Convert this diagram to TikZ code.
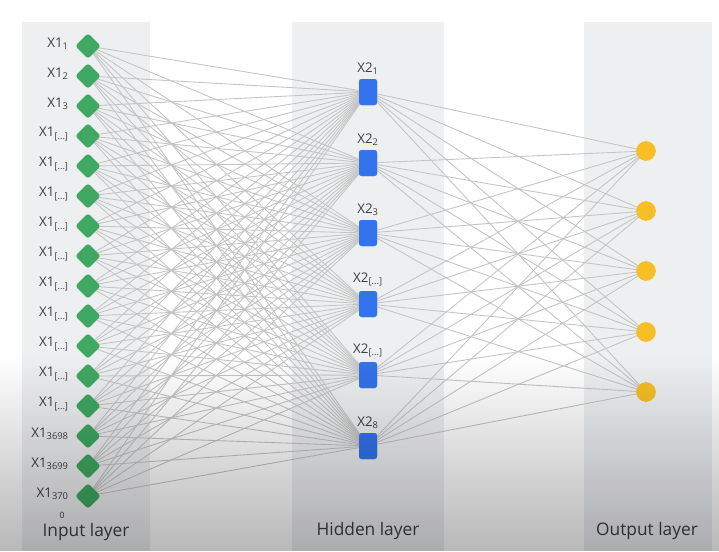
\documentclass[tikz,border=0pt]{standalone}
\usepackage{fontspec}
\setmainfont{Open Sans}
\usetikzlibrary{shapes.geometric,fadings}

\definecolor{panel}{HTML}{EEEFF1}
\definecolor{edgegray}{HTML}{C4C4C4}
\definecolor{ingreen}{HTML}{3FA862}
\definecolor{hidblue}{HTML}{3473EE}
\definecolor{outyellow}{HTML}{F7BF25}
\definecolor{labeltext}{HTML}{3C4043}

\tikzfading[name=darkenbottom, top color=transparent!100, bottom color=transparent!72]

\tikzset{
  panelbox/.style={fill=panel, draw=none},
  link/.style={draw=edgegray, line width=0.65pt},
  inputnode/.style={diamond, fill=ingreen, draw=none, inner sep=0pt,
    minimum width=19pt, minimum height=19pt, rounded corners=2pt},
  hiddennode/.style={rectangle, fill=hidblue, draw=none, inner sep=0pt,
    minimum width=13.5pt, minimum height=19.5pt, rounded corners=2pt},
  outputnode/.style={circle, fill=outyellow, draw=none, inner sep=0pt,
    minimum size=14.5pt},
  unitlabel/.style={text=labeltext, font=\fontsize{10pt}{11pt}\selectfont, inner sep=0pt},
  layerlabel/.style={text=labeltext, font=\fontsize{13pt}{15pt}\selectfont, inner sep=0pt}
}

\begin{document}
\begin{tikzpicture}[x=0.75pt, y=-0.75pt]
  % canvas and layer panels
  \fill[white] (0,0) rectangle (719,551);
  \useasboundingbox (0,0) rectangle (719,551);
  \fill[panelbox] (22,22) rectangle (150,551);
  \fill[panelbox] (292,22) rectangle (444,551);
  \fill[panelbox] (584,22) rectangle (712,551);

  % input layer nodes
  \foreach \k in {1,...,16} {
    \node[inputnode] (i\k) at (88, {46 + (\k-1)*30}) {};
  }
  % hidden layer nodes
  \foreach \k/\yy in {1/92, 2/163, 3/233, 4/304, 5/375, 6/446} {
    \node[hiddennode] (h\k) at (368, \yy) {};
  }
  % output layer nodes
  \foreach \k/\yy in {1/151, 2/211, 3/271, 4/332, 5/392} {
    \node[outputnode] (o\k) at (646, \yy) {};
  }

  % fully connected links
  \foreach \a in {1,...,16} {
    \foreach \b in {1,...,6} {
      \draw[link] (i\a.center) -- (h\b.center);
    }
  }
  \foreach \b in {1,...,6} {
    \foreach \c in {1,...,5} {
      \draw[link] (h\b.center) -- (o\c.center);
    }
  }

  % redraw the units over the links
  \foreach \k in {1,...,16} {
    \node[inputnode] at (i\k) {};
  }
  \foreach \k in {1,...,6} {
    \node[hiddennode] at (h\k) {};
  }
  \foreach \k in {1,...,5} {
    \node[outputnode] at (o\k) {};
  }

  % input labels
  \foreach \k/\s in {1/1, 2/2, 3/3, 4/{[...]}, 5/{[...]}, 6/{[...]}, 7/{[...]},
                     8/{[...]}, 9/{[...]}, 10/{[...]}, 11/{[...]}, 12/{[...]},
                     13/{[...]}, 14/3698, 15/3699, 16/370} {
    \node[unitlabel, anchor=east] (li\k) at (69, {44 + (\k-1)*30}) {X1\textsubscript{\s}};
  }
  \node[unitlabel, font=\fontsize{6.5pt}{7pt}\selectfont] (li16b) at (62, 515) {0};

  % hidden labels
  \foreach \k/\s in {1/1, 2/2, 3/3, 4/{[...]}, 5/{[...]}, 6/8} {
    \node[unitlabel, anchor=south] (lh\k) at ([yshift=3pt]h\k.north) {X2\textsubscript{\s}};
  }

  % layer titles
  \node[layerlabel] (tin) at (86, 532) {Input layer};
  \node[layerlabel] (thid) at (368, 531) {Hidden layer};
  \node[layerlabel] (tout) at (647, 531) {Output layer};

  % darkening towards the bottom edge
  \fill[black, path fading=darkenbottom] (0,355) rectangle (719,551);
\end{tikzpicture}
\end{document}
